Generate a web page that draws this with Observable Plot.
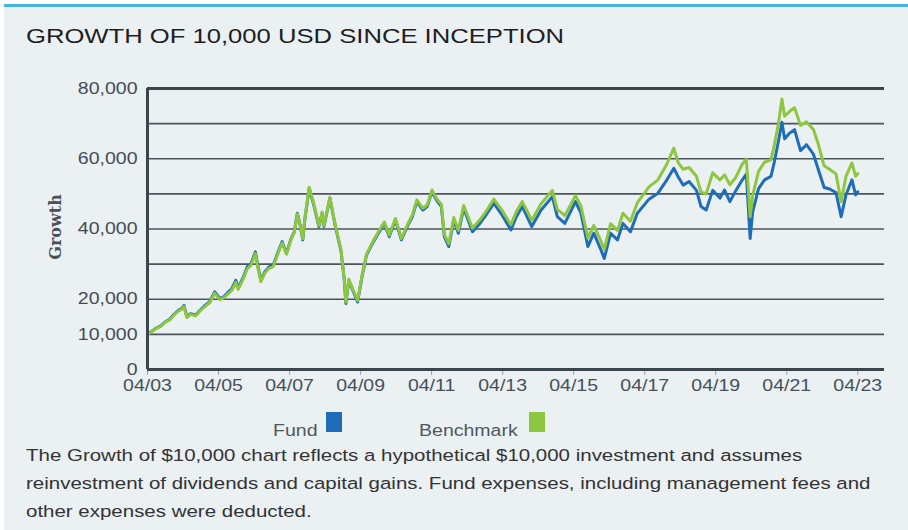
<!DOCTYPE html>
<html><head><meta charset="utf-8">
<script src="https://cdn.jsdelivr.net/npm/d3@7"></script>
<script src="https://cdn.jsdelivr.net/npm/@observablehq/plot@0.6"></script>
<style>
html,body{margin:0;padding:0;background:#fff;}
#frame{position:relative;width:908px;height:530px;overflow:hidden;background:#fff;font-family:"Liberation Sans",Arial,sans-serif;}
#panel{position:absolute;left:4px;top:4px;width:904px;height:526px;background:#EBF0F3;border-top:3px solid #47B3E5;box-sizing:border-box;}
.st{position:absolute;white-space:nowrap;transform-origin:0 0;transform:scaleX(1.22);}
#title{left:26px;top:25px;font-size:21px;line-height:21px;color:#1e1e1e;}
#ylab{position:absolute;left:55px;top:227px;transform:translate(-50%,-50%) rotate(-90deg);font-family:"DejaVu Serif",serif;font-weight:bold;font-size:16px;color:#4a5056;white-space:nowrap;}
#caption{left:26px;top:442px;font-size:16.8px;line-height:28px;color:#333;}
.lg{font-size:16px;line-height:16px;color:#4f5860;}
.sw{position:absolute;width:16px;height:20px;top:412px;}
#chart{position:absolute;left:0;top:0;}
</style></head>
<body><div id="frame"><div id="panel"></div>
<div id="title" class="st">GROWTH OF 10,000 USD SINCE INCEPTION</div>
<div id="ylab">Growth</div>
<div id="chart"></div>
<div class="st lg" style="left:273px;top:423px;">Fund</div>
<div class="sw" style="left:326px;background:#1F6DB8;"></div>
<div class="st lg" style="left:419px;top:423px;">Benchmark</div>
<div class="sw" style="left:529px;background:#8DC63F;"></div>
<div id="caption" class="st">The Growth of $10,000 chart reflects a hypothetical $10,000 investment and assumes<br>reinvestment of dividends and capital gains. Fund expenses, including management fees and<br>other expenses were deducted.</div>
</div>
<script>
const dates = ["2003-04-01","2003-05-15","2003-07-01","2003-08-15","2003-10-01","2003-11-15","2004-01-01","2004-02-15","2004-03-20","2004-04-10","2004-05-10","2004-06-15","2004-08-10","2004-09-20","2004-11-10","2004-12-31","2005-02-20","2005-04-15","2005-05-20","2005-07-01","2005-08-15","2005-09-25","2005-10-20","2005-12-15","2006-01-20","2006-03-01","2006-04-15","2006-05-10","2006-06-10","2006-07-20","2006-09-01","2006-10-15","2006-11-25","2007-01-15","2007-02-28","2007-04-20","2007-05-20","2007-06-20","2007-07-20","2007-08-15","2007-09-05","2007-10-20","2007-12-10","2008-01-28","2008-03-01","2008-03-20","2008-05-20","2008-07-15","2008-09-10","2008-10-15","2008-10-31","2008-12-01","2009-01-10","2009-03-01","2009-04-15","2009-06-01","2009-08-01","2009-10-01","2009-12-01","2010-01-20","2010-03-25","2010-05-25","2010-07-31","2010-09-15","2010-10-31","2011-01-01","2011-02-15","2011-04-05","2011-05-20","2011-07-10","2011-08-10","2011-09-25","2011-11-15","2012-01-01","2012-02-25","2012-05-25","2012-08-10","2012-09-30","2012-12-31","2013-03-25","2013-06-25","2013-08-20","2013-10-20","2014-01-25","2014-05-01","2014-08-25","2014-10-15","2014-12-31","2015-04-20","2015-06-15","2015-08-25","2015-10-25","2015-12-31","2016-02-10","2016-04-15","2016-06-25","2016-08-20","2016-11-05","2017-01-15","2017-05-15","2017-08-15","2017-11-15","2018-01-25","2018-03-10","2018-05-01","2018-07-01","2018-09-15","2018-11-01","2018-12-24","2019-03-01","2019-05-15","2019-07-01","2019-08-25","2019-10-20","2019-12-31","2020-02-10","2020-03-20","2020-04-15","2020-06-15","2020-08-15","2020-10-20","2020-11-25","2021-01-05","2021-02-10","2021-03-10","2021-05-01","2021-06-20","2021-08-20","2021-10-20","2021-12-31","2022-02-15","2022-04-20","2022-06-15","2022-08-20","2022-10-12","2022-12-01","2023-01-31","2023-03-10","2023-04-01"];
const fund = [10000,10900,11800,12400,13600,14300,15800,16900,17400,18300,15000,15900,15500,16800,18200,19300,22100,20200,20600,21800,23000,25400,23200,26500,29200,30200,33500,29500,25400,27800,29200,29700,32800,36400,33100,37500,39200,44500,41000,36900,42600,51600,46400,40700,44500,40700,48800,40700,34000,25500,18800,25400,22600,19200,26400,32600,35900,38800,41600,37800,42600,36900,41100,43500,47800,45400,46400,50700,48300,46400,37800,35000,42600,38800,45900,39200,41600,43500,47300,44000,39700,43500,46400,40700,45400,49200,43500,41600,47800,44500,35000,38800,34500,31600,38800,36900,41600,39200,44500,48500,50200,54000,57300,54900,52500,53500,51000,46400,45400,51000,48800,51100,47800,50700,54000,55600,37300,44900,51500,54000,55000,59200,65000,70400,65700,67300,68300,62300,64000,61300,57300,51800,51400,50400,43500,49700,54000,49700,50600];
const benchmark = [10000,10800,11700,12300,13500,14100,15600,16700,17200,18000,14800,15700,15300,16600,17900,19000,21700,19900,20300,21400,22500,24800,22800,26000,28600,29700,33000,29000,25000,27400,28800,29300,32400,36000,32800,37300,39000,44300,41000,37200,43000,51900,46800,41000,44800,41000,49000,41000,34300,25800,19200,25700,22900,19600,26700,32900,36200,39200,42000,38200,43000,37300,41500,44000,48300,45900,46900,51100,48800,47000,38500,35800,43300,39600,46700,40200,42600,44500,48500,45300,41200,45000,47800,42500,47200,51000,45600,43800,49500,46500,37500,41000,37000,34200,41500,39600,44500,42200,47500,52000,54000,58500,63000,59000,57000,57500,55000,50500,50000,56000,54000,55400,52600,54500,58500,59900,43500,49500,56500,59000,59700,64000,70000,77000,72100,73500,74500,69500,70500,68300,64500,58000,57000,55700,47800,55000,58800,55000,55800];
const yTickValues = [0,10000,20000,40000,60000,80000];
const gridValues = [10000,20000,30000,40000,50000,60000,70000];
const xTickDates = ["2003-04-01","2005-04-01","2007-04-01","2009-04-01","2011-04-01","2013-04-01","2015-04-01","2017-04-01","2019-04-01","2021-04-01","2023-04-01"];
const xDomain = ["2003-04-01","2024-01-01"];

const parse = d3.utcParse("%Y-%m-%d");
const rows = dates.map((d,i)=>({date:parse(d),fund:fund[i],benchmark:benchmark[i]}));
const x0 = parse(xDomain[0]);

const chart = Plot.plot({
  width:908, height:400,
  marginTop:88, marginBottom:31, marginLeft:147, marginRight:24,
  style:{background:"transparent",fontFamily:"Liberation Sans, Arial, sans-serif",fontSize:"16px"},
  x:{type:"utc",domain:xDomain.map(parse)},
  y:{domain:[0,80000]},
  marks:[
    Plot.ruleY(gridValues,{stroke:"#4d555c",strokeWidth:1.6}),
    Plot.ruleY([80000],{stroke:"#3b454c",strokeWidth:3}),
    Plot.axisX({ticks:xTickDates.map(parse),tickFormat:d3.utcFormat("%m/%y"),tickSize:6,tickPadding:4,stroke:"#9aa3a9",fill:"#465059",label:null}),
    Plot.axisY({ticks:yTickValues,tickFormat:d3.format(","),tickSize:0,tickPadding:10,fill:"#444c53",label:null}),
    Plot.lineY(rows,{x:"date",y:"fund",stroke:"#1F6DB8",strokeWidth:3}),
    Plot.lineY(rows,{x:"date",y:"benchmark",stroke:"#8DC63F",strokeWidth:3}),
    Plot.ruleY([0],{stroke:"#3b454c",strokeWidth:3}),
    Plot.ruleX([x0],{stroke:"#3b454c",strokeWidth:3})
  ]
});
document.getElementById("chart").appendChild(chart);
// widen axis tick labels horizontally about their anchor, as in the reference
function stretchTexts(selector, anchor){
  d3.select(chart).selectAll(selector).each(function(){
    const b = this.getBBox();
    const ax = anchor === "end" ? b.x + b.width : b.x + b.width / 2;
    const t = this.getAttribute("transform") || "";
    this.setAttribute("transform", `${t} translate(${ax},0) scale(1.22,1) translate(${-ax},0)`);
  });
}
stretchTexts("g[aria-label='x-axis tick label'] text", "middle");
stretchTexts("g[aria-label='y-axis tick label'] text", "end");
</script></body></html>
